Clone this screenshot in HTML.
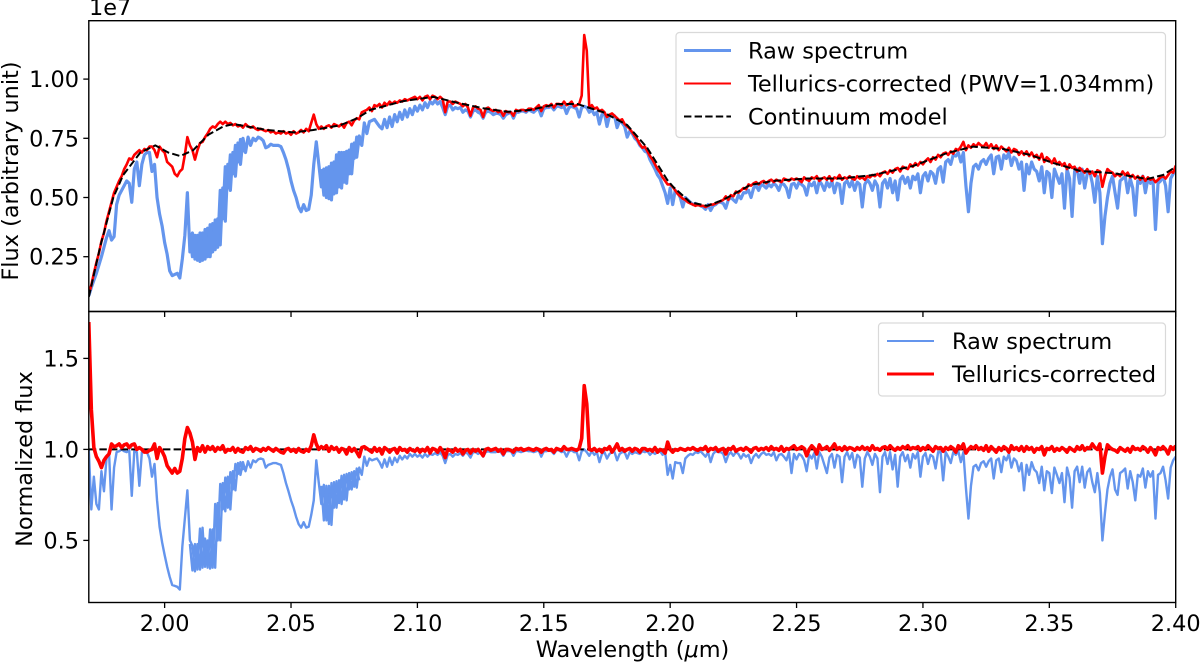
<!DOCTYPE html>
<html lang="en">
<head>
<meta charset="utf-8">
<title>Telluric correction spectrum</title>
<style>
html,body{margin:0;padding:0;background:#fff;width:1200px;height:663px;overflow:hidden}
svg{display:block}
text{font-family:"DejaVu Sans","Liberation Sans",sans-serif;font-size:22.4px;fill:#000}
</style>
</head>
<body>
<svg id="chart" xmlns="http://www.w3.org/2000/svg" width="1200" height="663" viewBox="0 0 1200 663">
<defs>
<clipPath id="clip-top"><rect x="88.8" y="20.7" width="1086.9" height="290.8"/></clipPath>
<clipPath id="clip-bottom"><rect x="88.8" y="311.5" width="1086.9" height="291"/></clipPath>
</defs>
<g id="top-marks" clip-path="url(#clip-top)"></g>
<g id="bottom-marks" clip-path="url(#clip-bottom)"></g>
<g id="axes-layer"></g>
<rect x="88.8" y="20.7" width="1086.9" height="290.8" fill="none" stroke="#000" stroke-width="1.4"/>
<rect x="88.8" y="311.5" width="1086.9" height="291" fill="none" stroke="#000" stroke-width="1.4"/>
<text x="89" y="15">1e7</text>
<text transform="translate(18,171) rotate(-90)" text-anchor="middle">Flux (arbitrary unit)</text>
<text transform="translate(32,459) rotate(-90)" text-anchor="middle">Normalized flux</text>
<text x="632.5" y="657" text-anchor="middle">Wavelength (<tspan font-style="italic">μ</tspan>m)</text>
<g>
<rect x="676" y="32.5" width="489.5" height="105" rx="3.5" fill="#fff" fill-opacity="0.8" stroke="#d9d9d9" stroke-width="1.2"/>
<line x1="684" x2="731" y1="50.5" y2="50.5" stroke="#6495ed" stroke-width="3"/>
<text x="748" y="58.5">Raw spectrum</text>
<line x1="684" x2="731" y1="83.5" y2="83.5" stroke="#ff0000" stroke-width="2"/>
<text x="748" y="91.5">Tellurics-corrected (PWV=1.034mm)</text>
<line x1="684" x2="731" y1="116.5" y2="116.5" stroke="#000" stroke-width="2" stroke-dasharray="7.4 3.2"/>
<text x="748" y="124.5">Continuum model</text>
</g>
<g>
<rect x="878.5" y="323" width="287" height="73" rx="3.5" fill="#fff" fill-opacity="0.8" stroke="#d9d9d9" stroke-width="1.2"/>
<line x1="887" x2="934" y1="341" y2="341" stroke="#6495ed" stroke-width="2"/>
<text x="952" y="349">Raw spectrum</text>
<line x1="887" x2="934" y1="374" y2="374" stroke="#ff0000" stroke-width="3"/>
<text x="952" y="382">Tellurics-corrected</text>
</g>
</svg>
<script>
// Sampling of the spectrum (nm)
const gridStartNm = 1970;
const gridStepNm = 1;
const bandOneStartNm = 2010;
const bandTwoStartNm = 2062;

// Tick labels
const xTickLabels = ["2.00","2.05","2.10","2.15","2.20","2.25","2.30","2.35","2.40"];
const fluxTickLabels = ["0.25","0.50","0.75","1.00"];
const normTickLabels = ["0.5","1.0","1.5"];

// Raw flux, units of 1e4 (1000 = 1.00e7), one row per 10 nm
const rawFlux = [
85,120,150,180,215,250,290,330,360,320,
335,470,510,530,550,570,560,480,620,650,
550,640,680,690,690,610,640,500,430,380,
310,260,190,170,175,180,160,240,340,520,
270,350,240,340,230,350,240,370,250,390,
280,410,300,540,400,640,530,690,590,730,
640,750,690,755,720,750,740,755,750,740,
710,715,725,720,720,720,715,690,660,620,
570,530,500,460,440,470,445,450,510,640,
735,640,545,620,500,630,490,650,520,690,
540,690,560,700,600,730,670,760,720,815,
770,820,825,830,815,800,790,830,795,840,
800,850,820,860,830,870,840,875,850,885,
865,890,870,900,880,905,895,910,895,905,
880,850,885,890,870,880,875,880,860,870,
865,840,865,870,860,855,835,860,865,860,
850,855,855,850,835,850,855,860,835,860,
860,865,865,860,870,865,860,870,875,845,
875,880,880,885,870,885,885,880,885,855,
880,885,880,875,840,880,885,880,860,870,
850,860,810,850,855,800,845,850,845,795,
825,815,800,755,780,770,750,740,720,710,
695,690,660,640,620,595,580,550,520,475,
540,470,530,520,500,460,500,490,480,470,
475,470,465,460,450,470,445,465,470,480,
480,475,455,490,500,490,480,510,495,520,
520,530,500,540,550,530,555,550,540,555,
545,560,550,530,560,555,540,500,555,560,
540,565,555,545,510,560,550,565,520,570,
555,530,565,545,570,520,560,555,475,560,
570,545,570,530,565,555,460,555,575,560,
530,570,550,460,560,575,540,580,520,570,
490,575,590,560,585,540,590,575,600,520,
590,605,570,610,600,560,620,630,565,650,
660,640,680,675,690,650,690,550,440,560,
630,640,620,650,660,640,665,680,600,670,
675,620,680,665,690,635,670,660,620,650,
530,640,600,650,620,610,570,630,520,610,
600,500,620,590,560,600,455,620,580,420,
610,620,560,620,540,600,610,560,480,590,
520,305,420,500,560,590,520,455,570,580,
590,520,580,540,425,570,560,590,520,580,
560,580,365,560,570,590,550,440,580,600,
620];

// Opposite-phase fringe samples inside the two dense water bands
const rawFluxBandOne = [350,250,340,235,350,235,365,250,385,270,405,290,530,410,630,540,680,600,720,650,745,690];
const rawFluxBandTwo = [620,510,625,495,645,515,680,545,690,565,695,600,725,665,755,720];

// Telluric-corrected flux, same units
const correctedFlux = [
90,130,180,225,265,315,350,400,440,480,
520,545,570,590,620,640,665,660,680,690,
700,690,705,700,715,715,700,670,715,700,
690,650,640,630,600,590,610,620,680,755,
720,700,660,700,730,735,755,770,790,800,
795,810,820,810,820,810,815,805,810,800,
805,795,810,800,795,800,790,785,790,785,
780,785,775,780,770,775,770,780,770,775,
765,780,770,775,785,775,790,780,815,850,
810,790,800,790,800,805,795,810,805,800,
810,795,815,820,805,825,835,830,860,865,
870,880,865,890,885,895,880,900,890,905,
895,905,900,910,905,915,910,915,920,925,
915,925,910,925,930,915,930,925,915,925,
915,860,905,905,895,905,900,895,885,895,
880,845,880,885,875,870,840,875,880,870,
865,870,860,865,845,865,860,860,845,870,
865,870,870,865,875,875,870,880,890,865,
885,890,885,895,880,895,895,890,905,890,
895,905,885,890,895,930,1186,1120,880,890,
875,880,865,870,860,840,850,855,845,835,
825,830,810,800,790,775,760,745,725,710,
715,695,675,660,640,620,605,585,570,555,
555,545,530,515,505,495,490,480,475,470,
465,470,465,465,460,465,470,470,475,480,
485,490,505,490,510,505,525,520,530,540,
535,555,550,560,565,555,565,570,560,570,
575,565,575,570,565,580,575,570,580,575,
580,575,565,585,575,570,585,580,590,570,
580,585,575,590,570,585,580,595,575,585,
580,590,580,575,590,580,585,575,590,585,
595,590,600,590,605,610,600,615,605,620,
625,610,630,625,620,640,630,645,635,650,
640,655,665,650,670,660,680,670,685,690,
680,695,685,705,700,715,735,700,720,710,
725,715,730,720,715,730,710,725,705,720,
700,715,705,695,710,690,705,700,680,695,
680,695,675,690,670,680,660,685,650,670,
660,645,665,640,650,635,645,620,640,625,
630,610,625,615,605,620,600,610,590,615,
610,545,590,620,610,605,590,600,590,610,
595,605,585,595,580,590,575,590,570,585,
575,580,565,575,585,590,580,595,610,605,
635];

// Continuum model knots
const continuumWaveNm = [1970,1974.5,1979.7,1983.6,1990.4,1996.3,2001.4,2006.2,2011.3,2017.3,2023.2,2027.2,2032.7,2040.6,2050.9,2058.8,2069.5,2076.2,2081.4,2094.4,2106.3,2115.8,2126,2135.5,2144.7,2155.3,2163.2,2173.5,2183,2190.9,2198.8,2201.2,2207.9,2214.6,2221,2231.7,2240.8,2254.2,2267.3,2280.3,2296.1,2309.6,2319.9,2331.7,2342.4,2351.5,2362.2,2375.2,2388.7,2395,2400];
const continuumFlux = [80,292,500,595,690,720,690,675,700,765,800,810,800,785,775,785,805,835,870,907,925,900,877,862,870,895,895,860,806,710,575,545,480,465,490,553,570,580,580,595,633,688,715,705,680,646,612,603,578,595,630];

// Raw normalized flux, units of 1e-3 (1000 = 1.0)
const rawNorm = [
1000,670,850,700,670,880,770,950,985,670,
900,985,990,1000,990,985,995,745,990,985,
800,985,990,985,950,850,920,720,575,490,
420,355,300,255,250,245,230,465,620,775,
500,470,330,480,340,570,355,500,345,560,
350,705,500,815,660,850,670,880,775,925,
860,930,880,935,900,940,930,945,950,945,
900,915,920,925,925,920,915,870,815,770,
720,680,630,590,570,600,570,575,640,720,
940,815,700,805,610,800,585,820,680,830,
700,860,720,870,780,880,790,900,860,960,
910,950,940,945,950,930,900,945,905,955,
915,955,930,965,945,965,950,975,960,975,
960,970,955,975,960,975,970,980,970,985,
965,925,970,975,960,975,970,980,965,985,
975,955,985,985,975,985,960,985,990,985,
985,985,990,985,965,990,990,990,965,990,
990,985,990,995,990,990,985,990,995,960,
990,990,995,990,975,995,995,985,990,960,
990,995,985,985,940,990,1000,985,965,990,
970,985,930,975,985,950,975,985,985,940,
975,985,985,950,985,975,985,980,975,990,
985,990,970,985,975,985,990,970,985,860,
915,840,930,925,925,870,950,965,975,970,
985,980,990,975,960,985,930,975,990,985,
985,975,930,970,985,965,985,975,950,975,
960,970,925,960,975,955,975,985,970,975,
965,985,940,970,975,960,940,985,870,975,
945,975,965,940,880,970,950,980,895,985,
960,915,870,955,975,900,970,960,820,960,
985,945,980,900,970,955,795,950,985,960,
915,975,950,765,960,985,920,985,890,970,
795,960,985,935,970,900,975,950,985,850,
960,980,920,970,960,895,985,985,830,985,
960,925,985,970,990,930,985,790,620,800,
905,915,885,925,935,905,935,950,840,940,
950,875,960,940,975,900,950,935,880,925,
775,915,860,930,890,875,815,905,775,880,
870,760,900,860,815,870,710,900,845,680,
880,905,820,905,790,875,895,820,765,870,
760,500,650,780,850,890,780,750,870,880,
895,785,880,820,720,860,850,895,790,880,
850,880,620,860,870,905,830,730,900,940,
960];

// Opposite-phase fringe samples, normalized
const rawNormBandOne = [480,335,480,340,565,350,510,350,560,350,700,500,810,670,845,680,875,780,920,865,930,885];
const rawNormBandTwo = [800,610,800,590,815,680,825,705,855,725,865,780,875,795,895,830];

// Telluric-corrected normalized flux, same units
const correctedNorm = [
1700,1220,1010,960,935,900,940,960,975,1030,
1015,1020,1030,1010,1025,1030,1010,1025,1030,1000,
1010,1000,985,985,995,1000,1030,950,1010,990,
960,910,890,870,895,870,880,950,1060,1120,
1090,1040,945,1010,990,1020,985,1015,1000,1015,
990,1010,1000,1020,985,1000,995,1010,985,1005,
990,985,1010,1000,1015,990,1005,1000,990,1005,
995,1010,1000,990,1005,995,985,980,1000,1005,
990,1000,985,1005,990,985,1000,990,1020,1080,
1030,1000,1015,1005,1020,990,1015,1000,1010,985,
1005,1000,975,1010,990,1005,985,960,1010,1015,
1005,995,985,1010,990,1005,975,1010,1000,985,
1000,1005,980,1010,995,1000,985,1005,995,990,
1005,985,1000,990,1010,980,1005,1000,985,1010,
990,955,1000,995,985,1005,990,1000,975,995,
1000,980,1000,990,1000,985,965,1000,1005,995,
1000,1005,990,1000,975,1000,1000,995,985,1005,
1000,1005,995,1000,1005,1000,995,1005,1000,985,
1000,1005,995,1000,985,1005,1000,995,1015,1000,
1000,1005,1000,995,1005,1060,1350,1250,1000,995,
1005,990,1000,985,1005,1000,1015,985,1005,1030,
995,1005,990,1000,1005,990,1005,1000,985,1005,
1005,995,1000,990,1010,985,1000,995,980,1040,
1000,985,1000,995,1005,1000,995,1005,1000,1010,
1000,995,1005,1000,1015,990,1005,1000,1010,990,
1000,1005,975,1005,1000,1015,990,1000,1005,995,
1010,1000,985,1005,1010,995,1005,1000,1010,995,
1015,1000,1005,995,1015,990,1005,1000,1010,1020,
1000,1005,1015,1005,965,1000,1020,1005,975,1025,
1000,1005,1015,995,1010,1030,1000,1010,995,1015,
1000,1010,1005,995,1010,1000,1015,1000,1010,995,
1020,1000,1005,995,1010,1015,1000,1020,1005,995,
1010,1000,1015,1005,1020,1000,1010,1005,1015,995,
1010,1000,1020,1005,990,1015,1005,1010,990,1010,
1000,1015,1005,985,1020,1005,1030,980,1000,1015,
1005,1020,1000,1010,995,1020,990,1015,1000,985,
1010,995,1015,1005,985,1020,1000,1010,995,1015,
990,1015,1000,1010,985,1005,1000,1015,970,1005,
1000,1015,990,1005,995,1010,1000,985,1010,1000,
990,1015,1000,1020,995,1010,1005,1030,1010,1000,
1030,870,960,1025,1010,1000,995,985,1010,1000,
990,1005,985,1015,1000,1005,995,1015,1005,985,
1010,995,970,1010,1000,1015,1000,975,1015,1000,
1020];

// Reference level of the normalized panel
const unityWaveNm = [1970,2400];
const unityLevel = [1000,1000];

// Axis functions (pixels from the measured plot frame)
const NS = "http://www.w3.org/2000/svg";
const xScale = nm => 88.8 + (nm - 1970) * 2.5277;
const yFlux = v => 79.1 + (1000 - v) * 0.2368;
const yNorm = v => 449.4 + (1000 - v) * 0.182;
const gridWave = i => gridStartNm + i * gridStepNm;
const bandOneWave = i => bandOneStartNm + i * gridStepNm;
const bandTwoWave = i => bandTwoStartNm + i * gridStepNm;

const topMarks = document.getElementById('top-marks');
const bottomMarks = document.getElementById('bottom-marks');
const axesLayer = document.getElementById('axes-layer');

function polyline(parent, waves, values, yFn, color, width, dash) {
  const el = document.createElementNS(NS, 'polyline');
  el.setAttribute('points', values.map((v, i) => xScale(waves(i)).toFixed(2) + ',' + yFn(v).toFixed(2)).join(' '));
  el.setAttribute('fill', 'none');
  el.setAttribute('stroke', color);
  el.setAttribute('stroke-width', width);
  el.setAttribute('stroke-linejoin', 'round');
  if (dash) el.setAttribute('stroke-dasharray', dash);
  parent.appendChild(el);
  return el;
}

let mark;
mark = polyline(topMarks, gridWave, rawFlux, yFlux, '#6495ed', 3.2);


mark = polyline(topMarks, bandOneWave, rawFluxBandOne, yFlux, '#6495ed', 3.2);


mark = polyline(topMarks, bandTwoWave, rawFluxBandTwo, yFlux, '#6495ed', 3.2);


mark = polyline(topMarks, gridWave, correctedFlux, yFlux, '#ff0000', 2.6);


mark = polyline(topMarks, i => continuumWaveNm[i], continuumFlux, yFlux, '#000', 2, '7.4 3.2');


mark = polyline(bottomMarks, gridWave, rawNorm, yNorm, '#6495ed', 2.4);


mark = polyline(bottomMarks, bandOneWave, rawNormBandOne, yNorm, '#6495ed', 2.4);


mark = polyline(bottomMarks, bandTwoWave, rawNormBandTwo, yNorm, '#6495ed', 2.4);


mark = polyline(bottomMarks, i => unityWaveNm[i], unityLevel, yNorm, '#000', 2, '7.4 3.2');


mark = polyline(bottomMarks, gridWave, correctedNorm, yNorm, '#ff0000', 3.6);



function tick(x1, y1, x2, y2) {
  const el = document.createElementNS(NS, 'line');
  el.setAttribute('x1', x1);
  el.setAttribute('y1', y1);
  el.setAttribute('x2', x2);
  el.setAttribute('y2', y2);
  el.setAttribute('stroke', '#000');
  el.setAttribute('stroke-width', 1.3);
  
  
  axesLayer.appendChild(el);
}
function label(str, x, y, anchor) {
  const el = document.createElementNS(NS, 'text');
  el.setAttribute('x', x);
  el.setAttribute('y', y);
  el.setAttribute('text-anchor', anchor);
  
  
  el.textContent = str;
  axesLayer.appendChild(el);
}
xTickLabels.forEach(t => {
  const x = xScale(parseFloat(t) * 1000);
  tick(x, 311.5, x, 317);
  tick(x, 602.5, x, 608);
  label(t, x, 631, 'middle');
});
fluxTickLabels.forEach(t => {
  const y = yFlux(parseFloat(t) * 1000);
  tick(83.3, y, 88.8, y);
  label(t, 79, y + 8, 'end');
});
normTickLabels.forEach(t => {
  const y = yNorm(parseFloat(t) * 1000);
  tick(83.3, y, 88.8, y);
  label(t, 79, y + 8, 'end');
});
</script>
</body>
</html>
